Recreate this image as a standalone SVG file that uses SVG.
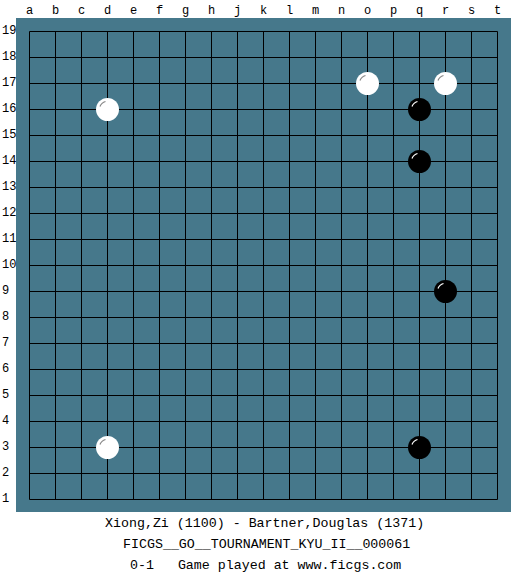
<svg xmlns="http://www.w3.org/2000/svg" width="525" height="575" viewBox="0 0 525 575">
<style>
.lbl{font-family:"Liberation Mono","DejaVu Sans Mono",monospace;font-size:12px;fill:#000}
.col{text-anchor:middle}
.info{font-family:"Liberation Mono","DejaVu Sans Mono",monospace;font-size:13.3px;fill:#000}
.grid line{stroke:#000;stroke-width:1}
.w{fill:#fff}
.b{fill:#000}
.hw{fill:none;stroke:#888;stroke-width:1.2}
.hb{fill:none;stroke:#fff;stroke-width:1.2}
</style>
<defs>
<g id="white"><circle r="11.5" class="w"/><path d="M-7.5,-3 A8,8 0 0 1 -2,-8" class="hw"/></g>
<g id="black"><circle r="11.5" class="b"/><path d="M-7.5,-3 A8,8 0 0 1 -2,-8" class="hb"/></g>
</defs>
<rect width="525" height="575" fill="#fff"/>
<rect id="board" x="16" y="18" width="495" height="494" fill="#46788b"/>
<g id="columns" class="lbl col">
<text x="29.5" y="14">a</text><text x="55.5" y="14">b</text><text x="81.5" y="14">c</text><text x="107.5" y="14">d</text><text x="133.5" y="14">e</text><text x="159.5" y="14">f</text><text x="185.5" y="14">g</text><text x="211.5" y="14">h</text><text x="237.5" y="14">j</text><text x="263.5" y="14">k</text><text x="289.5" y="14">l</text><text x="315.5" y="14">m</text><text x="341.5" y="14">n</text><text x="367.5" y="14">o</text><text x="393.5" y="14">p</text><text x="419.5" y="14">q</text><text x="445.5" y="14">r</text><text x="471.5" y="14">s</text><text x="497.5" y="14">t</text>
</g>
<g id="rows" class="lbl">
<text x="2" y="34">19</text><text x="2" y="60">18</text><text x="2" y="86">17</text><text x="2" y="112">16</text><text x="2" y="138">15</text><text x="2" y="164">14</text><text x="2" y="190">13</text><text x="2" y="216">12</text><text x="2" y="242">11</text><text x="2" y="268">10</text><text x="2" y="294">9</text><text x="2" y="320">8</text><text x="2" y="346">7</text><text x="2" y="372">6</text><text x="2" y="398">5</text><text x="2" y="424">4</text><text x="2" y="450">3</text><text x="2" y="476">2</text><text x="2" y="502">1</text>
</g>
<g id="grid" class="grid">
<line x1="29.5" y1="31.5" x2="29.5" y2="499.5"/><line x1="55.5" y1="31.5" x2="55.5" y2="499.5"/><line x1="81.5" y1="31.5" x2="81.5" y2="499.5"/><line x1="107.5" y1="31.5" x2="107.5" y2="499.5"/><line x1="133.5" y1="31.5" x2="133.5" y2="499.5"/><line x1="159.5" y1="31.5" x2="159.5" y2="499.5"/><line x1="185.5" y1="31.5" x2="185.5" y2="499.5"/><line x1="211.5" y1="31.5" x2="211.5" y2="499.5"/><line x1="237.5" y1="31.5" x2="237.5" y2="499.5"/><line x1="263.5" y1="31.5" x2="263.5" y2="499.5"/><line x1="289.5" y1="31.5" x2="289.5" y2="499.5"/><line x1="315.5" y1="31.5" x2="315.5" y2="499.5"/><line x1="341.5" y1="31.5" x2="341.5" y2="499.5"/><line x1="367.5" y1="31.5" x2="367.5" y2="499.5"/><line x1="393.5" y1="31.5" x2="393.5" y2="499.5"/><line x1="419.5" y1="31.5" x2="419.5" y2="499.5"/><line x1="445.5" y1="31.5" x2="445.5" y2="499.5"/><line x1="471.5" y1="31.5" x2="471.5" y2="499.5"/><line x1="497.5" y1="31.5" x2="497.5" y2="499.5"/>
<line x1="29.5" y1="31.5" x2="497.5" y2="31.5"/><line x1="29.5" y1="57.5" x2="497.5" y2="57.5"/><line x1="29.5" y1="83.5" x2="497.5" y2="83.5"/><line x1="29.5" y1="109.5" x2="497.5" y2="109.5"/><line x1="29.5" y1="135.5" x2="497.5" y2="135.5"/><line x1="29.5" y1="161.5" x2="497.5" y2="161.5"/><line x1="29.5" y1="187.5" x2="497.5" y2="187.5"/><line x1="29.5" y1="213.5" x2="497.5" y2="213.5"/><line x1="29.5" y1="239.5" x2="497.5" y2="239.5"/><line x1="29.5" y1="265.5" x2="497.5" y2="265.5"/><line x1="29.5" y1="291.5" x2="497.5" y2="291.5"/><line x1="29.5" y1="317.5" x2="497.5" y2="317.5"/><line x1="29.5" y1="343.5" x2="497.5" y2="343.5"/><line x1="29.5" y1="369.5" x2="497.5" y2="369.5"/><line x1="29.5" y1="395.5" x2="497.5" y2="395.5"/><line x1="29.5" y1="421.5" x2="497.5" y2="421.5"/><line x1="29.5" y1="447.5" x2="497.5" y2="447.5"/><line x1="29.5" y1="473.5" x2="497.5" y2="473.5"/><line x1="29.5" y1="499.5" x2="497.5" y2="499.5"/>
</g>
<g id="stones">
<use id="d16" href="#white" x="107.5" y="109.5"/>
<use id="o17" href="#white" x="367.5" y="83.5"/>
<use id="r17" href="#white" x="445.5" y="83.5"/>
<use id="d3" href="#white" x="107.5" y="447.5"/>
<use id="q16" href="#black" x="419.5" y="109.5"/>
<use id="q14" href="#black" x="419.5" y="161.5"/>
<use id="r9" href="#black" x="445.5" y="291.5"/>
<use id="q3" href="#black" x="419.5" y="447.5"/>
</g>
<g id="info" class="info">
<text x="105" y="527">Xiong,Zi (1100) - Bartner,Douglas (1371)</text>
<text x="123" y="548">FICGS__GO__TOURNAMENT_KYU_II__000061</text>
<text x="130" y="569" xml:space="preserve">0-1   Game played at www.ficgs.com</text>
</g>
</svg>
